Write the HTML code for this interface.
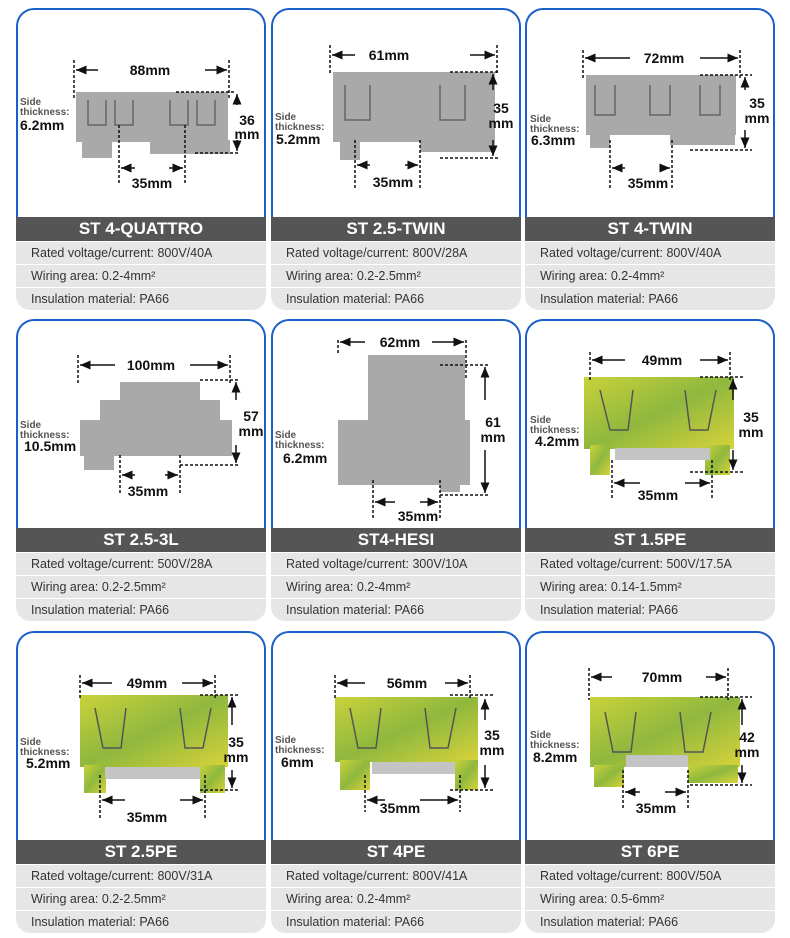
<!DOCTYPE html>
<html><head><meta charset="utf-8"><style>
body{margin:0;width:790px;height:938px;background:#fff;position:relative;overflow:hidden;font-family:"Liberation Sans",sans-serif}
.card{position:absolute;width:250px}
.img{border:2px solid #1b5fc9;border-bottom:none;border-radius:18px 18px 0 0;box-sizing:border-box;height:209px}
.tt{height:24px;background:#555;color:#fff;font-weight:bold;font-size:17px;text-align:center;line-height:24px}
.r{height:22px;background:#e6e6e6;border-top:1px solid #fff;font-size:12.5px;color:#333;line-height:22px;padding-left:15px}
.r:last-child{border-radius:0 0 14px 14px}
svg{position:absolute;left:0;top:0}
svg text{font-family:"Liberation Sans",sans-serif;font-weight:bold;fill:#111}
.s{font-size:10px;fill:#555}
</style></head><body>
<div class="card" style="left:16px;top:8px"><div class="img"></div><div class="tt">ST 4-QUATTRO</div><div class="r">Rated voltage/current: 800V/40A</div><div class="r">Wiring area: 0.2-4mm²</div><div class="r">Insulation material: PA66</div></div>
<div class="card" style="left:271px;top:8px"><div class="img"></div><div class="tt">ST 2.5-TWIN</div><div class="r">Rated voltage/current: 800V/28A</div><div class="r">Wiring area: 0.2-2.5mm²</div><div class="r">Insulation material: PA66</div></div>
<div class="card" style="left:525px;top:8px"><div class="img"></div><div class="tt">ST 4-TWIN</div><div class="r">Rated voltage/current: 800V/40A</div><div class="r">Wiring area: 0.2-4mm²</div><div class="r">Insulation material: PA66</div></div>
<div class="card" style="left:16px;top:319px"><div class="img"></div><div class="tt">ST 2.5-3L</div><div class="r">Rated voltage/current: 500V/28A</div><div class="r">Wiring area: 0.2-2.5mm²</div><div class="r">Insulation material: PA66</div></div>
<div class="card" style="left:271px;top:319px"><div class="img"></div><div class="tt">ST4-HESI</div><div class="r">Rated voltage/current: 300V/10A</div><div class="r">Wiring area: 0.2-4mm²</div><div class="r">Insulation material: PA66</div></div>
<div class="card" style="left:525px;top:319px"><div class="img"></div><div class="tt">ST 1.5PE</div><div class="r">Rated voltage/current: 500V/17.5A</div><div class="r">Wiring area: 0.14-1.5mm²</div><div class="r">Insulation material: PA66</div></div>
<div class="card" style="left:16px;top:631px"><div class="img"></div><div class="tt">ST 2.5PE</div><div class="r">Rated voltage/current: 800V/31A</div><div class="r">Wiring area: 0.2-2.5mm²</div><div class="r">Insulation material: PA66</div></div>
<div class="card" style="left:271px;top:631px"><div class="img"></div><div class="tt">ST 4PE</div><div class="r">Rated voltage/current: 800V/41A</div><div class="r">Wiring area: 0.2-4mm²</div><div class="r">Insulation material: PA66</div></div>
<div class="card" style="left:525px;top:631px"><div class="img"></div><div class="tt">ST 6PE</div><div class="r">Rated voltage/current: 800V/50A</div><div class="r">Wiring area: 0.5-6mm²</div><div class="r">Insulation material: PA66</div></div>

<svg width="790" height="938" viewBox="0 0 790 938">
<defs>
<linearGradient id="gy" x1="0" y1="0" x2="1" y2="1"><stop offset="0" stop-color="#c9d23a"/><stop offset=".5" stop-color="#8fb83e"/><stop offset="1" stop-color="#d8d23a"/></linearGradient>
<marker id="a" markerWidth="8" markerHeight="8" refX="7" refY="4" orient="auto-start-reverse"><path d="M0,1 L7,4 L0,7 Z" fill="#111"/></marker>
</defs>
<g fill="#a9a9a9">
<rect x="76" y="92" width="152" height="50"/><rect x="150" y="140" width="80" height="14"/><rect x="82" y="140" width="30" height="18"/>
<rect x="333" y="72" width="162" height="70"/><rect x="340" y="140" width="20" height="20"/><rect x="420" y="140" width="75" height="12"/>
<rect x="586" y="75" width="150" height="60"/><rect x="590" y="133" width="20" height="15"/><rect x="670" y="133" width="65" height="12"/>
<rect x="120" y="382" width="80" height="30"/><rect x="100" y="400" width="120" height="30"/><rect x="80" y="420" width="152" height="36"/><rect x="84" y="455" width="30" height="15"/>
<rect x="368" y="355" width="97" height="68"/><rect x="338" y="420" width="132" height="65"/><rect x="440" y="480" width="20" height="12"/>
</g>
<g fill="none" stroke="#666" stroke-width="1.5">
<path d="M88 100v25h18v-25M115 100v25h18v-25M170 100v25h18v-25M197 100v25h18v-25"/>
<path d="M345 85v35h25v-35M440 85v35h25v-35"/>
<path d="M595 85v30h20v-30M650 85v30h20v-30M700 85v30h20v-30"/>
<path d="M595 300"/>
</g>
<g fill="url(#gy)">
<rect x="584" y="377" width="150" height="72"/><rect x="590" y="445" width="20" height="30"/><rect x="705" y="445" width="25" height="30"/>
<rect x="80" y="695" width="148" height="72"/><rect x="84" y="765" width="22" height="28"/><rect x="200" y="765" width="25" height="28"/>
<rect x="335" y="697" width="143" height="65"/><rect x="340" y="760" width="30" height="30"/><rect x="455" y="760" width="23" height="30"/>
<rect x="590" y="697" width="150" height="70"/><rect x="594" y="765" width="30" height="22"/><rect x="688" y="765" width="50" height="18"/>
</g>
<g fill="#c4c4c4"><rect x="615" y="448" width="95" height="12"/><rect x="105" y="767" width="95" height="12"/><rect x="372" y="762" width="83" height="12"/><rect x="626" y="755" width="62" height="12"/></g>
<g fill="none" stroke="#555" stroke-width="1.5">
<path d="M600 390l10 40h18l5-40M685 390l5 40h18l8-40"/>
<path d="M95 708l8 40h18l5-40M180 708l5 40h18l8-40"/>
<path d="M350 708l8 40h18l5-40M425 708l5 40h18l8-40"/>
<path d="M605 712l8 40h18l5-40M680 712l5 40h18l8-40"/>
</g>

<g stroke="#111" stroke-width="1.5" fill="none" stroke-dasharray="3,2">
<path d="M74 60V100M229 60V100M176 92H236M195 153H240M119 125V185M185 125V185"/>
<path d="M330 45V75M497 45V75M450 72H500M440 158H500M355 140V190M420 140V190"/>
<path d="M583 50V78M740 50V78M700 75H752M690 150H752M610 140V190M672 140V190"/>
<path d="M78 355V385M230 355V385M200 380H240M180 465H240M120 455V495M180 455V495"/>
<path d="M338 340V355M466 340V380M440 365H490M440 495H490M373 480V520M440 480V520"/>
<path d="M590 352V380M730 352V380M700 377H745M690 472H745M612 460V500M712 460V500"/>
<path d="M80 675V698M215 675V698M200 695H240M200 790H240M100 775V818M205 775V818"/>
<path d="M335 675V698M470 675V698M450 695H495M450 790H495M365 775V812M460 775V812"/>
<path d="M589 668V700M728 668V700M700 697H752M690 785H752M623 770V810M688 770V810"/>
</g>
<g stroke="#111" stroke-width="1.5" marker-end="url(#a)">
<path d="M98 70H76"/><path d="M205 70H227"/><path d="M237 105V94"/><path d="M237 140V151"/><path d="M135 168H121"/><path d="M169 168H183"/>
<path d="M355 55H332"/><path d="M470 55H495"/><path d="M493 90V74"/><path d="M493 140V156"/><path d="M370 165H357"/><path d="M405 165H418"/>
<path d="M630 58H585"/><path d="M700 58H738"/><path d="M745 90V77"/><path d="M745 130V148"/><path d="M625 168H612"/><path d="M660 168H670"/>
<path d="M115 365H80"/><path d="M190 365H228"/><path d="M236 400V382"/><path d="M236 445V463"/><path d="M135 475H122"/><path d="M165 475H178"/>
<path d="M365 342H340"/><path d="M432 342H464"/><path d="M485 400V367"/><path d="M485 450V493"/><path d="M395 502H375"/><path d="M420 502H438"/>
<path d="M625 360H592"/><path d="M700 360H728"/><path d="M733 400V379"/><path d="M733 450V470"/><path d="M640 483H614"/><path d="M685 483H710"/>
<path d="M112 683H82"/><path d="M182 683H213"/><path d="M232 725V697"/><path d="M232 770V788"/><path d="M125 800H102"/><path d="M180 800H203"/>
<path d="M365 683H337"/><path d="M445 683H468"/><path d="M485 720V699"/><path d="M485 765V788"/><path d="M385 800H367"/><path d="M420 800H458"/>
<path d="M612 677H591"/><path d="M706 677H726"/><path d="M742 725V699"/><path d="M742 765V783"/><path d="M640 792H625"/><path d="M665 792H686"/>
</g>
<g font-size="14" text-anchor="middle">
<text x="150" y="75">88mm</text><text x="152" y="188">35mm</text>
<text x="389" y="60">61mm</text><text x="393" y="187">35mm</text>
<text x="664" y="63">72mm</text><text x="648" y="188">35mm</text>
<text x="151" y="370">100mm</text><text x="148" y="496">35mm</text>
<text x="400" y="347">62mm</text><text x="418" y="521">35mm</text>
<text x="662" y="365">49mm</text><text x="658" y="500">35mm</text>
<text x="147" y="688">49mm</text><text x="147" y="822">35mm</text>
<text x="407" y="688">56mm</text><text x="400" y="813">35mm</text>
<text x="662" y="682">70mm</text><text x="656" y="813">35mm</text>
</g>
<g font-size="14" text-anchor="middle">
<text x="247" y="125">36</text><text x="247" y="139">mm</text>
<text x="501" y="113">35</text><text x="501" y="128">mm</text>
<text x="757" y="108">35</text><text x="757" y="123">mm</text>
<text x="251" y="421">57</text><text x="251" y="436">mm</text>
<text x="493" y="427">61</text><text x="493" y="442">mm</text>
<text x="751" y="422">35</text><text x="751" y="437">mm</text>
<text x="236" y="747">35</text><text x="236" y="762">mm</text>
<text x="492" y="740">35</text><text x="492" y="755">mm</text>
<text x="747" y="742">42</text><text x="747" y="757">mm</text>
</g>
<g><text class="s" x="20" y="105">Side</text><text class="s" x="20" y="115">thickness:</text>
<text class="s" x="275" y="120">Side</text><text class="s" x="275" y="130">thickness:</text>
<text class="s" x="530" y="122">Side</text><text class="s" x="530" y="132">thickness:</text>
<text class="s" x="20" y="428">Side</text><text class="s" x="20" y="438">thickness:</text>
<text class="s" x="275" y="438">Side</text><text class="s" x="275" y="448">thickness:</text>
<text class="s" x="530" y="423">Side</text><text class="s" x="530" y="433">thickness:</text>
<text class="s" x="20" y="745">Side</text><text class="s" x="20" y="755">thickness:</text>
<text class="s" x="275" y="743">Side</text><text class="s" x="275" y="753">thickness:</text>
<text class="s" x="530" y="738">Side</text><text class="s" x="530" y="748">thickness:</text></g>
<g font-size="14">
<text x="20" y="130">6.2mm</text><text x="276" y="144">5.2mm</text><text x="531" y="145">6.3mm</text>
<text x="24" y="451">10.5mm</text><text x="283" y="463">6.2mm</text><text x="535" y="446">4.2mm</text>
<text x="26" y="768">5.2mm</text><text x="281" y="767">6mm</text><text x="533" y="762">8.2mm</text>
</g>
</svg>
</body></html>
